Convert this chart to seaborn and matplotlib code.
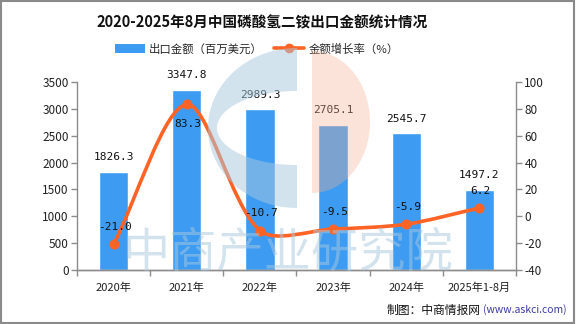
import numpy as np
import pandas as pd
import matplotlib
matplotlib.use("Agg")
import matplotlib.pyplot as plt
import seaborn as sns
from matplotlib.path import Path
from matplotlib.patches import PathPatch, Rectangle, Polygon
from matplotlib.lines import Line2D
from matplotlib.patches import Patch

categories = ["2020年", "2021年", "2022年", "2023年", "2024年", "2025年1-8月"]
export_value = [1826.3, 3347.8, 2989.3, 2705.1, 2545.7, 1497.2]
growth_rate = [-21.0, 83.3, -10.7, -9.5, -5.9, 6.2]
left_ticks = [0, 500, 1000, 1500, 2000, 2500, 3000, 3500]
right_ticks = [-40, -20, 0, 20, 40, 60, 80, 100]

title = "2020-2025年8月中国磷酸氢二铵出口金额统计情况"
bar_name = "出口金额（百万美元）"
line_name = "金额增长率（%）"
source = "制图：中商情报网"
source_url = "(www.askci.com)"

BLUE = "#3d9cf2"
ORANGE = "#ff6326"
GRAY = "#8c8c8c"

sns.set_theme(style="white")
plt.rcParams["font.family"] = ["Noto Sans CJK SC", "DejaVu Sans"]
plt.rcParams["axes.unicode_minus"] = False

fig = plt.figure(figsize=(5.76, 3.24), dpi=100)
fig.patch.set_facecolor("white")
fig.patches.append(Rectangle((0.002, 0.003), 0.995, 0.994, transform=fig.transFigure,
                             fill=False, edgecolor="#8a8a8a", linewidth=1.5, zorder=0))

L, R, B, T = 77 / 576, 516 / 576, 1 - 270 / 324, 1 - 82 / 324
ax = fig.add_axes([L, B, R - L, T - B])
ax2 = ax.twinx()

df = pd.DataFrame({"cat": categories, "value": export_value, "rate": growth_rate})
sns.barplot(data=df, x="cat", y="value", ax=ax, color=BLUE, saturation=1, width=0.4,
            order=categories, zorder=2)
ax.set_xlim(-0.5, len(categories) - 0.5)
ax.set_ylim(left_ticks[0], left_ticks[-1])
ax.set_yticks(left_ticks)
ax.set_xlabel("")
ax.set_ylabel("")

for i, v in enumerate(export_value):
    ax.annotate(f"{v:.1f}", (i, v), xytext=(0, 7), textcoords="offset points",
                ha="center", va="bottom", fontsize=8, color="#111111",
                family=["DejaVu Sans Mono", "DejaVu Sans"])

ax2.set_ylim(right_ticks[0], right_ticks[-1])
ax2.set_yticks(right_ticks)

# smooth curve (echarts-like bezier smoothing) computed from the data
xs = np.arange(len(categories), dtype=float)
ys = np.array(growth_rate, dtype=float)
sx = (R - L) * 576 / len(categories)
sy = (T - B) * 324 / (right_ticks[-1] - right_ticks[0])
px, py = xs * sx, ys * sy
smooth = 0.3
n = len(xs)
cps_in, cps_out = [], []
for i in range(n):
    pi = max(i - 1, 0)
    ni = min(i + 1, n - 1)
    vx, vy = px[ni] - px[pi], py[ni] - py[pi]
    d0 = np.hypot(px[i] - px[pi], py[i] - py[pi])
    d1 = np.hypot(px[ni] - px[i], py[ni] - py[i])
    s = d0 + d1
    r1 = d1 / s if s else 0
    r0 = d0 / s if s else 0
    cps_in.append((px[i] - vx * smooth * r0, py[i] - vy * smooth * r0))
    cps_out.append((px[i] + vx * smooth * r1, py[i] + vy * smooth * r1))
verts = [(xs[0], ys[0])]
codes = [Path.MOVETO]
for i in range(n - 1):
    c1 = cps_out[i]
    c2 = cps_in[i + 1]
    verts += [(c1[0] / sx, c1[1] / sy), (c2[0] / sx, c2[1] / sy), (xs[i + 1], ys[i + 1])]
    codes += [Path.CURVE4] * 3
ax2.add_patch(PathPatch(Path(verts, codes), facecolor="none", edgecolor=ORANGE,
                        linewidth=2.6, zorder=3, capstyle="round"))
sns.scatterplot(x=xs, y=ys, ax=ax2, color=ORANGE, s=45, edgecolor=ORANGE, zorder=4,
                legend=False)

for i, v in enumerate(growth_rate):
    off = -14 if i == 1 else 12.5
    ax2.annotate(f"{v:.1f}", (i, v), xytext=(1, off), textcoords="offset points",
                 ha="center", va="center", fontsize=8, color="#111111",
                 family=["DejaVu Sans Mono", "DejaVu Sans"], zorder=5)

for a in (ax, ax2):
    a.spines["top"].set_visible(False)
    for sp in ("left", "right", "bottom"):
        a.spines[sp].set_color(GRAY)
        a.spines[sp].set_linewidth(1.0)
    a.tick_params(axis="y", length=4, width=1, color=GRAY, labelsize=8.5,
                  labelcolor="#222222", pad=2)
    a.patch.set_alpha(0)
ax.tick_params(axis="y", direction="out", left=True)
ax2.tick_params(axis="y", direction="out", right=True)
ax2.spines["left"].set_visible(False)
ax.spines["right"].set_visible(False)

ax.set_xticks(np.arange(len(categories)))
ax.set_xticklabels(categories)
ax.set_xticks(np.arange(len(categories) + 1) - 0.5, minor=True)
ax.tick_params(axis="x", which="major", length=0, labelsize=8, labelcolor="#222222", pad=9)
ax.tick_params(axis="x", which="minor", length=4, width=1, color=GRAY, direction="out",
               bottom=True)

fig.text(262 / 576, 1 - 22 / 324, title, ha="center", va="center", fontsize=10.5,
         fontweight="bold", color="#111111")

handles = [Patch(facecolor=BLUE, edgecolor="none"),
           Line2D([0], [0], color=ORANGE, lw=2.6, marker="o", markersize=6)]
fig.legend(handles, [bar_name, line_name], loc="center", bbox_to_anchor=(257 / 576, 1 - 49 / 324),
           ncol=2, frameon=False, fontsize=8.2, handlelength=2.6, handleheight=0.9,
           columnspacing=1.0, handletextpad=0.4)

fig.text(387 / 576, 1 - 310 / 324, source, ha="left", va="center", fontsize=8.5,
         color="#111111")
fig.text(483 / 576, 1 - 310 / 324, source_url, ha="left", va="center", fontsize=7.5,
         color="#3a3aa0")

# watermark
wm = fig.add_axes([0, 0, 1, 1], facecolor="none", zorder=10)
wm.set_xlim(0, 576)
wm.set_ylim(324, 0)
wm.axis("off")
th = np.linspace(np.pi / 2, 3 * np.pi / 2, 80)
cx, cy = 297, 128
outer = np.column_stack([cx + 89 * np.cos(th), cy - 80 * np.sin(th)])
inner = np.column_stack([cx + 80 * np.cos(th[::-1]), cy - 37 * np.sin(th[::-1])])
wm.add_patch(Polygon(np.vstack([outer, inner]), closed=True, facecolor="#a9c9df",
                     alpha=0.5, edgecolor="none"))
th2 = np.linspace(-np.pi / 2, np.pi / 2, 80)
half = np.column_stack([312 + 58 * np.cos(th2), 122 - 71 * np.sin(th2)])
wm.add_patch(Polygon(half, closed=True, facecolor="#f4b193", alpha=0.35, edgecolor="none"))
wm.text(288, 254, "中商产业研究院", ha="center", va="center",
        fontsize=34, fontweight="medium", color="#a9c9df", alpha=0.5)

fig.savefig("out.png", dpi=100, facecolor="white")
